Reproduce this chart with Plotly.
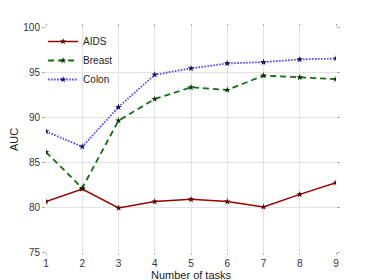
import plotly.graph_objects as go

tasks = [1, 2, 3, 4, 5, 6, 7, 8, 9]
aids = [80.6, 82.0, 79.9, 80.6, 80.85, 80.6, 80.0, 81.4, 82.7]
breast = [86.1, 82.1, 89.6, 92.0, 93.3, 93.0, 94.6, 94.4, 94.2]
colon = [88.4, 86.7, 91.1, 94.7, 95.4, 95.95, 96.1, 96.4, 96.5]

x_ticks = [1, 2, 3, 4, 5, 6, 7, 8, 9]
y_ticks = [75, 80, 85, 90, 95, 100]

fig = go.Figure()
fig.add_trace(go.Scatter(x=tasks, y=aids, name="AIDS", mode="lines+markers",
                         line=dict(color="#990000", width=1.5),
                         marker=dict(symbol="star", size=5, color="#550000")))
fig.add_trace(go.Scatter(x=tasks, y=breast, name="Breast", mode="lines+markers",
                         line=dict(color="#107010", width=1.8, dash="6px,4px"),
                         marker=dict(symbol="star", size=5, color="#0a300a")))
fig.add_trace(go.Scatter(x=tasks, y=colon, name="Colon", mode="lines+markers",
                         line=dict(color="#4040ff", width=1.8, dash="1.5px,1.5px"),
                         marker=dict(symbol="star", size=5, color="#101060")))

# the page body adds an 8px offset, margins compensate for it
fig.update_layout(
    width=374, height=280,
    margin=dict(l=38, r=46, t=19, b=36),
    plot_bgcolor="white", paper_bgcolor="white",
    font=dict(family="Liberation Sans, Arial, sans-serif", size=10, color="#333333"),
    showlegend=True,
    legend=dict(x=-0.01, y=1.0, xanchor="left", yanchor="top",
                bgcolor="rgba(0,0,0,0)", font=dict(size=10, color="#222222"),
                itemwidth=30, tracegroupgap=0),
    xaxis=dict(range=[1, 9], tickvals=x_ticks, showgrid=True, gridcolor="#e3e3e3",
               zeroline=False, showline=False, ticks="outside", ticklen=2,
               tickcolor="#aaaaaa", mirror="ticks", automargin=False,
               title=dict(text="Number of tasks", font=dict(size=11, color="#222222"), standoff=1)),
    yaxis=dict(range=[75, 100], tickvals=y_ticks, showgrid=True, gridcolor="#e3e3e3",
               zeroline=False, showline=False, ticks="outside", ticklen=3,
               tickcolor="#aaaaaa", mirror="ticks", automargin=False,
               title=dict(text="AUC", font=dict(size=11, color="#222222"), standoff=2)),
)

fig.write_html("out.html")
